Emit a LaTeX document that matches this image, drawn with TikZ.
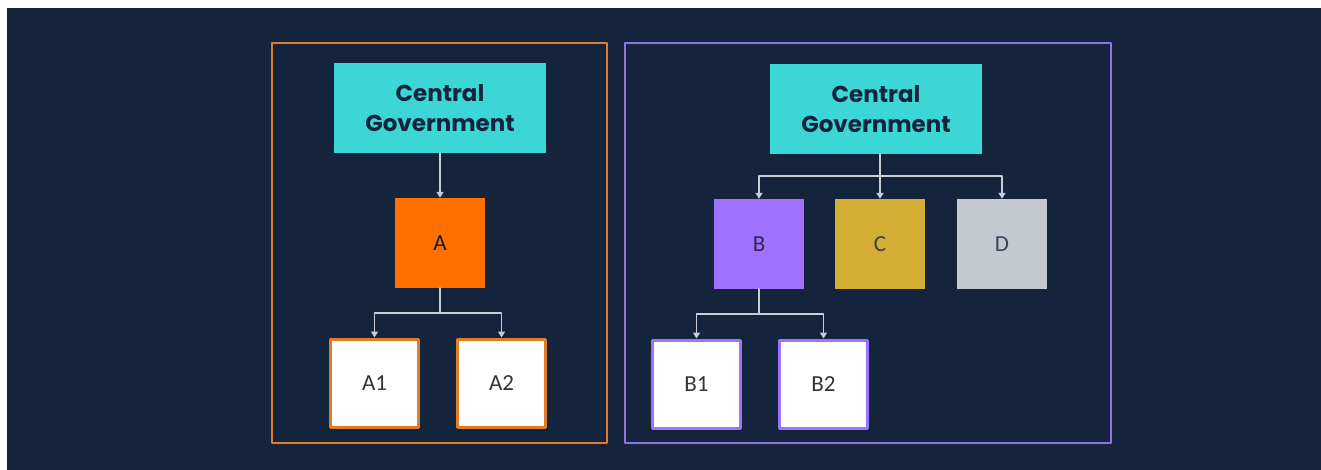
\documentclass[tikz,border=0pt]{standalone}
\usepackage{fontspec}
\setmainfont{Carlito}
\newfontfamily\cgfont{Poppins}
\usetikzlibrary{arrows.meta}
\definecolor{navy}{RGB}{20,36,61}
\definecolor{cgcyan}{RGB}{61,214,214}
\definecolor{aorange}{RGB}{255,112,0}
\definecolor{frameorange}{RGB}{224,123,42}
\definecolor{bpurple}{RGB}{160,112,255}
\definecolor{framepurple}{RGB}{141,116,224}
\definecolor{cgold}{RGB}{212,173,53}
\definecolor{dgrey}{RGB}{196,200,207}
\definecolor{linkgrey}{RGB}{200,204,212}
\tikzset{
  govbox/.style={fill=cgcyan,minimum width=212,minimum height=90,inner sep=0,
    align=center,text=navy,font=\cgfont\bfseries\fontsize{23}{30}\selectfont},
  unitbox/.style={minimum size=90,inner sep=0,font=\fontsize{23}{27}\selectfont},
  subbox/.style={fill=white,line width=3,minimum size=88,inner sep=0,
    text=black!80,font=\fontsize{23}{27}\selectfont},
  link/.style={draw=linkgrey,line width=1.8,-{Triangle[length=6,width=7]}},
}
\begin{document}
\begin{tikzpicture}[line cap=round,line join=round,x=1pt,y=-1pt]
\useasboundingbox (0,0) rectangle (1321,470);
\fill[white] (0,0) rectangle (1321,470);
\fill[navy] (7,8) rectangle (1321,470);
% frames
\draw[frameorange,line width=2] (272,43) rectangle (607,443);
\draw[framepurple,line width=2] (625,43) rectangle (1111,443);
% left side
\node[govbox] (cgl) at (440,108) {Central\\Government};
\node[unitbox,fill=aorange,text=navy!80!black] (a) at (440,243) {A};
\node[subbox,draw=frameorange] (a1) at (374.5,383) {A1};
\node[subbox,draw=frameorange] (a2) at (501.5,383) {A2};
\draw[link] (cgl) -- (a);
\draw[link] (a.south) -- ++(0,25) -| (a1.north);
\draw[link] (a.south) -- ++(0,25) -| (a2.north);
% right side
\node[govbox] (cgr) at (876,109) {Central\\Government};
\node[unitbox,fill=bpurple,text=navy!60!bpurple!60!black] (b) at (759,244) {B};
\node[unitbox,fill=cgold,text=black!75] (c) at (880,244) {C};
\node[unitbox,fill=dgrey,text=navy!85] (d) at (1002,244) {D};
\node[subbox,draw=bpurple] (b1) at (696.5,384) {B1};
\node[subbox,draw=bpurple] (b2) at (823.5,384) {B2};
\draw[link] (cgr.south -| c.north) -- (c.north);
\draw[link] (cgr.south -| c.north) -- ++(0,22) -| (b.north);
\draw[link] (cgr.south -| c.north) -- ++(0,22) -| (d.north);
\draw[link] (b.south) -- ++(0,25) -| (b1.north);
\draw[link] (b.south) -- ++(0,25) -| (b2.north);
\end{tikzpicture}
\end{document}
